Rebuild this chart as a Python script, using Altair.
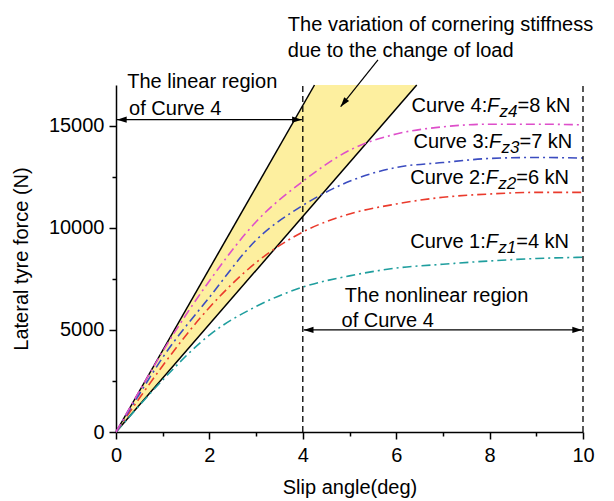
import altair as alt
import pandas as pd

FONT = "Liberation Sans"

# ---- data ----
slip = [0, 0.5, 1, 2, 3, 4, 5, 6, 7, 8, 9, 10]
curve1 = [0, 1300, 2550, 4750, 6150, 7100, 7650, 8030, 8220, 8380, 8500, 8560]
curve2 = [0, 1650, 3250, 6100, 8300, 9800, 10680, 11170, 11500, 11660, 11740, 11740]
curve3 = [0, 1850, 3650, 6600, 9400, 11100, 12280, 12960, 13200, 13400, 13450, 13420]
curve4 = [0, 2000, 3950, 7400, 10300, 12280, 13800, 14600, 14950, 15080, 15080, 15050]
curve_names = ["Curve 1", "Curve 2", "Curve 3", "Curve 4"]
curve_colors = ["#1f9e9e", "#ea3a2c", "#3b4cc0", "#de4fca"]

# wedge of cornering stiffness (upper / lower slope, N/deg)
wedge_x = [0, 4.25, 6.44]
wedge_upper = [0, 17000, 17000]
wedge_lower = [0, 11220, 17000]
bound_x_end = [4.25, 6.44]

# region markers
region_x = [4, 10]

# curve labels
lab_x = [6.30, 6.30, 6.37, 6.33]
lab_y = [9000, 12150, 13900, 15690]
lab_idx = ["1", "2", "3", "4"]
lab_load = ["4", "6", "7", "8"]

# annotation texts
note_text = ["The variation of cornering stiffness", "due to the change of load",
             "The linear region", "of Curve 4", "The nonlinear region", "of Curve 4"]
note_x = [3.68, 3.68, 0.24, 0.28, 4.90, 4.83]
note_y = [19660, 18385, 16838, 15530, 6383, 5159]

# arrows
arrow_x = [0.02, 4.02, 5.61]
arrow_x2 = [3.98, 9.98, 4.81]
arrow_y = [15300, 5000, 18225]
arrow_y2 = [15300, 5000, 15937]
head_x = [0.02, 3.98, 4.02, 9.98, 4.81]
head_y = [15300, 15300, 5000, 5000, 15937]
head_angle = [0, 180, 0, 180, 308.5]

# ---- tables ----
rows = []
for name, vals in zip(curve_names, [curve1, curve2, curve3, curve4]):
    for s, v in zip(slip, vals):
        rows.append({"curve": name, "slip": s, "force": v})
curves_df = pd.DataFrame(rows)
wedge_df = pd.DataFrame({"slip": wedge_x, "force": wedge_upper, "force2": wedge_lower})
bound_rows = []
for i, xe in enumerate(bound_x_end):
    bound_rows += [{"b": i, "slip": 0, "force": 0}, {"b": i, "slip": xe, "force": 17000}]
bound_df = pd.DataFrame(bound_rows)
region_df = pd.DataFrame({"slip": region_x, "force": [0, 0], "force2": [17000, 17000]})
lab_df = pd.DataFrame({"slip": lab_x, "force": lab_y,
                       "t1": [f"Curve {i}:" for i in lab_idx],
                       "t2": ["F"] * 4,
                       "t3": [f"z{i}" for i in lab_idx],
                       "t4": [f"={l} kN" for l in lab_load]})
note_df = pd.DataFrame({"slip": note_x, "force": note_y, "text": note_text})
arrow_df = pd.DataFrame({"slip": arrow_x, "slip2": arrow_x2, "force": arrow_y, "force2": arrow_y2})
head_df = pd.DataFrame({"slip": head_x, "force": head_y, "ang": head_angle})

xscale = alt.Scale(domain=[0, 10], nice=False)
yscale = alt.Scale(domain=[0, 17000], nice=False)

common_axis = dict(grid=False, domainColor="black", domainWidth=1.5, tickColor="black",
                   tickWidth=1.5, labelFontSize=20, labelColor="black", labelFont=FONT,
                   titleFontSize=20, titleFont=FONT, titleFontWeight="normal",
                   titleColor="black", labelFlush=False, labelOverlap=False)
x_axis = alt.Axis(values=list(range(0, 11)),
                  labelExpr="datum.value % 2 === 0 ? datum.label : ''",
                  tickSize={"condition": {"test": "datum.value % 2 === 0", "value": 7}, "value": 4},
                  labelPadding=6, titlePadding=12, title="Slip angle(deg)", **common_axis)
y_axis = alt.Axis(values=list(range(0, 17000, 2500)), format="d",
                  labelExpr="datum.value % 5000 === 0 ? datum.label : ''",
                  tickSize={"condition": {"test": "datum.value % 5000 === 0", "value": 7}, "value": 4},
                  labelPadding=5, titlePadding=17, title="Lateral tyre force (N)", **common_axis)

def X():
    return alt.X("slip:Q", scale=xscale, axis=x_axis)

def Y():
    return alt.Y("force:Q", scale=yscale, axis=y_axis)

wedge = alt.Chart(wedge_df).mark_area(color="#fdef9f", opacity=1).encode(
    x=X(), y=Y(), y2="force2:Q")

bounds = alt.Chart(bound_df).mark_line(color="black", strokeWidth=1.5).encode(
    x=X(), y=Y(), detail="b:N")

curves = alt.Chart(curves_df).mark_line(strokeWidth=1.6, strokeDash=[9, 4, 2, 4],
                                        interpolate="monotone").encode(
    x=X(), y=Y(),
    color=alt.Color("curve:N", scale=alt.Scale(domain=curve_names, range=curve_colors), legend=None))

regions = alt.Chart(region_df).mark_rule(color="black", strokeWidth=1.3, strokeDash=[6, 4]).encode(
    x=X(), y=Y(), y2="force2:Q")

arrows = alt.Chart(arrow_df).mark_rule(color="black", strokeWidth=1.2).encode(
    x=X(), x2="slip2:Q", y=Y(), y2="force2:Q")

heads = alt.Chart(head_df).mark_point(shape="M0,0L1,-0.32L1,0.32Z", size=380, filled=True,
                                      color="black", opacity=1).encode(
    x=X(), y=Y(), angle=alt.Angle("ang:Q", scale=None))

def txt(field, dx=0, dy=0, size=20, style="normal"):
    return alt.Chart(lab_df).mark_text(align="left", baseline="alphabetic", font=FONT,
                                       fontSize=size, fontStyle=style, color="black",
                                       dx=dx, dy=dy).encode(
        x=X(), y=Y(), text=f"{field}:N")

lab1 = txt("t1")
lab2 = txt("t2", dx=75.5, style="italic")
lab3 = txt("t3", dx=88, dy=5, size=17, style="italic")
lab4 = txt("t4", dx=106)

notes = alt.Chart(note_df).mark_text(align="left", baseline="alphabetic", font=FONT,
                                     fontSize=20, color="black").encode(
    x=X(), y=Y(), text="text:N")

chart = alt.layer(wedge, bounds, curves, regions, arrows, heads, lab1, lab2, lab3, lab4, notes).properties(
    width=467, height=347,
    background="white",
    autosize=alt.AutoSizeParams(type="none"),
    padding={"left": 108, "top": 77, "right": 23, "bottom": 68},
).configure_view(stroke=None)

chart.save("out.html", embed_options={"renderer": "svg", "actions": False})
